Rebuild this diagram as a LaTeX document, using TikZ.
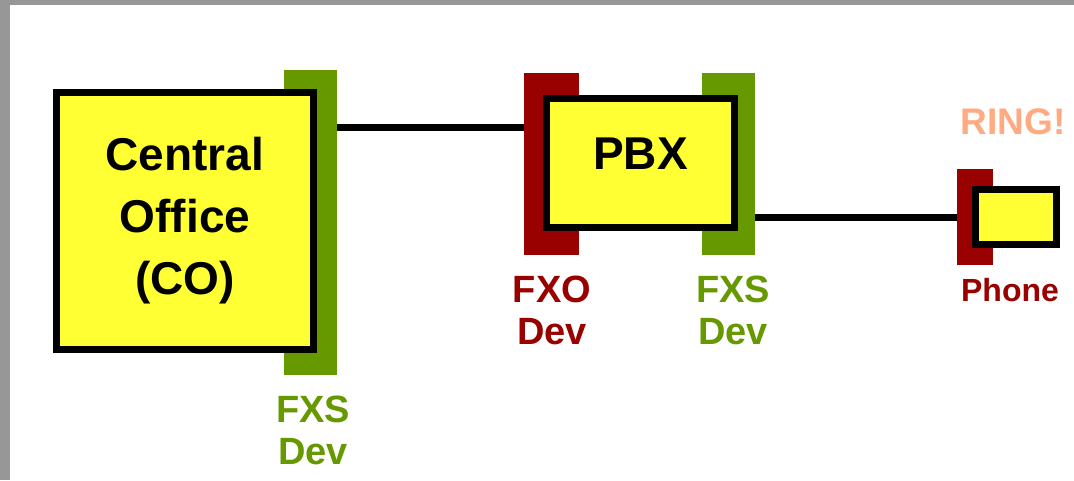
\documentclass[tikz,border=0pt]{standalone}
\usepackage{fontspec}
\setmainfont{Liberation Sans}
\definecolor{boxyellow}{HTML}{FFFF33}
\definecolor{fxsgreen}{HTML}{669900}
\definecolor{fxored}{HTML}{990000}
\definecolor{ringorange}{HTML}{FFAA80}
\definecolor{framegray}{HTML}{979797}
\begin{document}
\begin{tikzpicture}[x=1pt,y=-1pt,
  devbox/.style={draw=black,fill=boxyellow,line width=7pt,inner sep=0pt,align=center,font=\bfseries\fontsize{46}{62}\selectfont},
  greenbar/.style={fill=fxsgreen,inner sep=0pt},
  redbar/.style={fill=fxored,inner sep=0pt},
  wire/.style={line width=7pt,black},
  devlabel/.style={align=center,inner sep=0pt,font=\bfseries\fontsize{38}{42}\selectfont},
]
\useasboundingbox (0,0) rectangle (1074,480);
\fill[white] (0,0) rectangle (1074,480);
\fill[framegray] (0,0) rectangle (1074,5);
\fill[framegray] (0,0) rectangle (10,480);

% bars (behind boxes)
\node[greenbar,minimum width=53pt,minimum height=305pt] (cofxs) at (310.5,222.5) {};
\node[redbar,minimum width=55pt,minimum height=182pt] (fxo) at (551.5,164) {};
\node[greenbar,minimum width=53pt,minimum height=182pt] (pbxfxs) at (728.5,164) {};
\node[redbar,minimum width=36pt,minimum height=96pt] (phonebar) at (975,217) {};

% boxes
\node[devbox,minimum width=257pt,minimum height=257pt] (co) at (185,221) {Central\\Office\\(CO)};
\node[devbox,minimum width=188pt,minimum height=129pt] (pbx) at (640.5,163) {\raisebox{18pt}{PBX}};
\node[devbox,minimum width=81pt,minimum height=55pt] (phone) at (1016,217) {};

% wires
\coordinate (w1) at (0,127);
\draw[wire] (cofxs.east |- w1) -- (fxo.west |- w1);
\draw[wire] (pbxfxs.east |- phone.west) -- (phonebar.west |- phone.west);

% labels
\node[devlabel,text=fxsgreen] (lco) at (313,430) {FXS\\Dev};
\node[devlabel,text=fxored] (lfxo) at (552,310) {FXO\\Dev};
\node[devlabel,text=fxsgreen] (lpbx) at (733,310) {FXS\\Dev};
\node[inner sep=0pt,text=fxored,font=\bfseries\fontsize{32}{36}\selectfont] (lphone) at (1010,290) {Phone};
\node[inner sep=0pt,text=ringorange,font=\bfseries\fontsize{37}{40}\selectfont] (ring) at (1013,122) {RING!};
\end{tikzpicture}
\end{document}
